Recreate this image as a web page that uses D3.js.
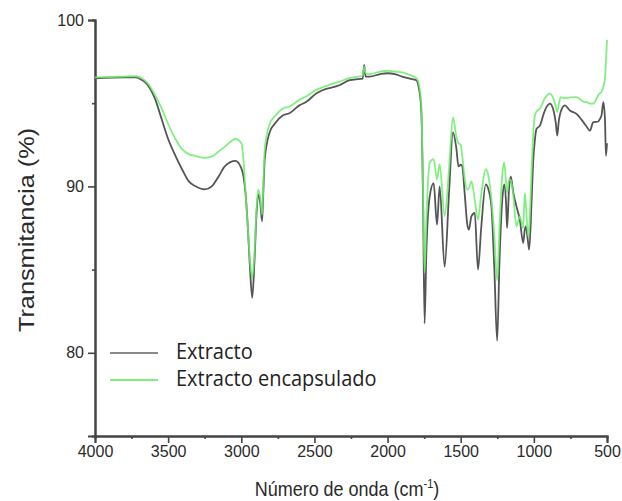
<!DOCTYPE html>
<html>
<head>
<meta charset="utf-8">
<script src="https://cdnjs.cloudflare.com/ajax/libs/d3/7.8.5/d3.min.js"></script>
<style>
  body { margin: 0; background: #fff; }
  svg { display: block; }
</style>
</head>
<body>
<div id="chart"></div>
<script>
// wavenumber (cm-1) and transmittance (%)
var wavenumber = [4000, 3800, 3720, 3680, 3640, 3590, 3545, 3500, 3450, 3405, 3360, 3315, 3250, 3200, 3155, 3110, 3040, 3000, 2985, 2970, 2955, 2940, 2925, 2910, 2895, 2884, 2870, 2858, 2848, 2840, 2808, 2763, 2717, 2671, 2603, 2557, 2488, 2445, 2329, 2260, 2200, 2170, 2160, 2150, 2123, 2050, 2000, 1950, 1900, 1849, 1803, 1790, 1770, 1758, 1747, 1735, 1712, 1685, 1662, 1644, 1610, 1580, 1553, 1530, 1515, 1500, 1489, 1473, 1455, 1444, 1427, 1404, 1382, 1360, 1329, 1310, 1290, 1270, 1251, 1235, 1215, 1203, 1190, 1183, 1170, 1158, 1140, 1119, 1096, 1073, 1062, 1055, 1039, 1032, 1016, 1005, 993, 982, 959, 925, 890, 863, 850, 840, 830, 817, 788, 753, 708, 662, 640, 617, 594, 560, 548, 537, 525, 514, 507, 500];
var extracto = [96.5, 96.55, 96.55, 96.4, 96.1, 95.27, 94.06, 92.85, 91.84, 91.03, 90.32, 90.02, 89.82, 90.02, 90.6, 91.23, 91.53, 91.1, 90.6, 89.5, 87.5, 85.0, 83.3, 85.5, 88.5, 89.5, 89.0, 87.9, 90.0, 91.6, 93.2, 93.86, 94.26, 94.4, 94.87, 95.07, 95.58, 95.78, 96.08, 96.38, 96.45, 96.48, 97.3, 96.6, 96.6, 96.75, 96.8, 96.75, 96.6, 96.48, 96.38, 96.08, 94.67, 89.6, 81.76, 86.0, 89.4, 90.2, 87.7, 90.0, 85.17, 89.6, 93.25, 92.3, 91.2, 91.3, 91.2, 89.6, 87.7, 87.4, 88.2, 88.4, 85.0, 87.5, 90.12, 89.8, 88.8, 85.0, 80.73, 85.5, 89.3, 90.12, 89.0, 87.5, 89.8, 90.6, 89.6, 88.8, 88.0, 86.6, 87.4, 87.6, 86.6, 86.2, 89.0, 91.44, 92.8, 93.45, 93.65, 94.56, 94.97, 94.47, 93.8, 93.05, 93.9, 94.47, 94.87, 94.56, 94.36, 93.86, 93.6, 93.35, 93.86, 93.9, 94.06, 94.3, 95.07, 94.06, 91.84, 92.6];
var encapsulado = [96.55, 96.6, 96.62, 96.5, 96.2, 95.5, 94.7, 93.75, 92.85, 92.24, 91.94, 91.84, 91.72, 91.8, 92.1, 92.4, 92.85, 92.6, 91.6, 89.5, 87.5, 85.5, 84.5, 86.0, 88.8, 89.8, 89.3, 88.3, 90.5, 92.2, 93.7, 94.3, 94.67, 94.8, 95.2, 95.4, 95.8, 95.95, 96.3, 96.5, 96.6, 96.65, 97.2, 96.8, 96.75, 96.9, 96.95, 96.9, 96.85, 96.7, 96.5, 96.3, 95.0, 90.0, 84.8, 88.0, 91.44, 91.64, 90.42, 91.33, 88.2, 91.03, 94.16, 93.0, 92.6, 92.5, 91.8, 90.5, 89.8, 89.9, 90.3, 89.2, 88.0, 89.5, 91.03, 90.6, 89.2, 87.0, 84.36, 87.5, 90.8, 91.44, 90.2, 89.6, 90.4, 90.4, 89.4, 87.6, 88.2, 87.5, 89.6, 89.0, 87.0, 87.5, 90.83, 93.0, 94.26, 94.5, 94.67, 95.3, 95.58, 95.2, 94.8, 94.47, 94.9, 95.37, 95.3, 95.35, 95.37, 95.1, 95.07, 94.97, 94.97, 95.47, 95.6, 95.68, 96.0, 96.48, 97.5, 98.8];
var xTicks = [4000, 3500, 3000, 2500, 2000, 1500, 1000, 500];
var yTicks = [80, 90, 100];

var width = 622, height = 501;
var svg = d3.select("#chart")
			.append("svg")
			.attr("width", width)
			.attr("height", height);

var x = d3.scaleLinear().domain([4000, 500]).range([95, 607]);
var y = d3.scaleLinear().domain([75, 100]).range([436, 20]);

// axes
svg.append("g")
	.attr("transform", "translate(0,436)")
	.call(d3.axisBottom(x).tickValues(xTicks).tickSize(7).tickPadding(3).tickFormat(d3.format("d")));
svg.append("g")
	.attr("transform", "translate(0,436)")
	.call(d3.axisBottom(x).tickValues(d3.range(3750, 500, -500)).tickSize(3).tickFormat(""));
svg.append("g")
	.attr("transform", "translate(95,0)")
	.call(d3.axisLeft(y).tickValues(yTicks).tickSize(7).tickPadding(4));
svg.append("g")
	.attr("transform", "translate(95,0)")
	.call(d3.axisLeft(y).tickValues([85, 95]).tickSize(3).tickFormat(""));

svg.selectAll(".domain").attr("stroke", "#444").attr("stroke-width", 2);
svg.selectAll(".tick line").attr("stroke", "#444").attr("stroke-width", 1.6);
svg.selectAll(".tick text")
	.attr("fill", "#2a2a2a")
	.style("font-family", "Liberation Sans, Arial, sans-serif")
	.style("font-size", "16px");

// curves
var line = d3.line()
	.x(function(d) { return x(d[0]); })
	.y(function(d) { return y(d[1]); })
	.curve(d3.curveMonotoneX);

svg.append("path")
	.datum(wavenumber.map(function(w, i) { return [w, extracto[i]]; }))
	.attr("fill", "none")
	.attr("stroke", "#555")
	.attr("stroke-width", 1.8)
	.attr("d", line);

svg.append("path")
	.datum(wavenumber.map(function(w, i) { return [w, encapsulado[i]]; }))
	.attr("fill", "none")
	.attr("stroke", "#6cec6c")
	.attr("stroke-opacity", 0.85)
	.attr("stroke-width", 1.8)
	.attr("d", line);

// legend
var legend = [
	{ name: "Extracto", color: "#8a8a8a", y: 353 },
	{ name: "Extracto encapsulado", color: "#7cf27c", y: 380 }
];
legend.forEach(function(l) {
	svg.append("line")
		.attr("x1", 110).attr("x2", 158)
		.attr("y1", l.y).attr("y2", l.y)
		.attr("stroke", l.color)
		.attr("stroke-width", 2);
	svg.append("text")
		.attr("transform", "translate(176," + (l.y + 6) + ") scale(1,1.1)")
		.attr("fill", "#222")
		.style("font-family", "Open Sans, sans-serif")
		.style("font-size", "20px")
		.text(l.name);
});

// axis titles
svg.append("text")
	.attr("transform", "translate(34,230) rotate(-90) scale(1.15,1)")
	.attr("text-anchor", "middle")
	.attr("fill", "#2a2a2a")
	.style("font-family", "Liberation Sans, Arial, sans-serif")
	.style("font-size", "22px")
	.text("Transmitancia (%)");

var xt = svg.append("text")
	.attr("transform", "translate(347,496) scale(1,1.15)")
	.attr("text-anchor", "middle")
	.attr("fill", "#2a2a2a")
	.style("font-family", "Liberation Sans, Arial, sans-serif")
	.style("font-size", "18px");
xt.append("tspan").text("Número de onda (cm");
xt.append("tspan").attr("dy", -7).style("font-size", "11px").text("-1");
xt.append("tspan").attr("dy", 7).text(")");
</script>
</body>
</html>
